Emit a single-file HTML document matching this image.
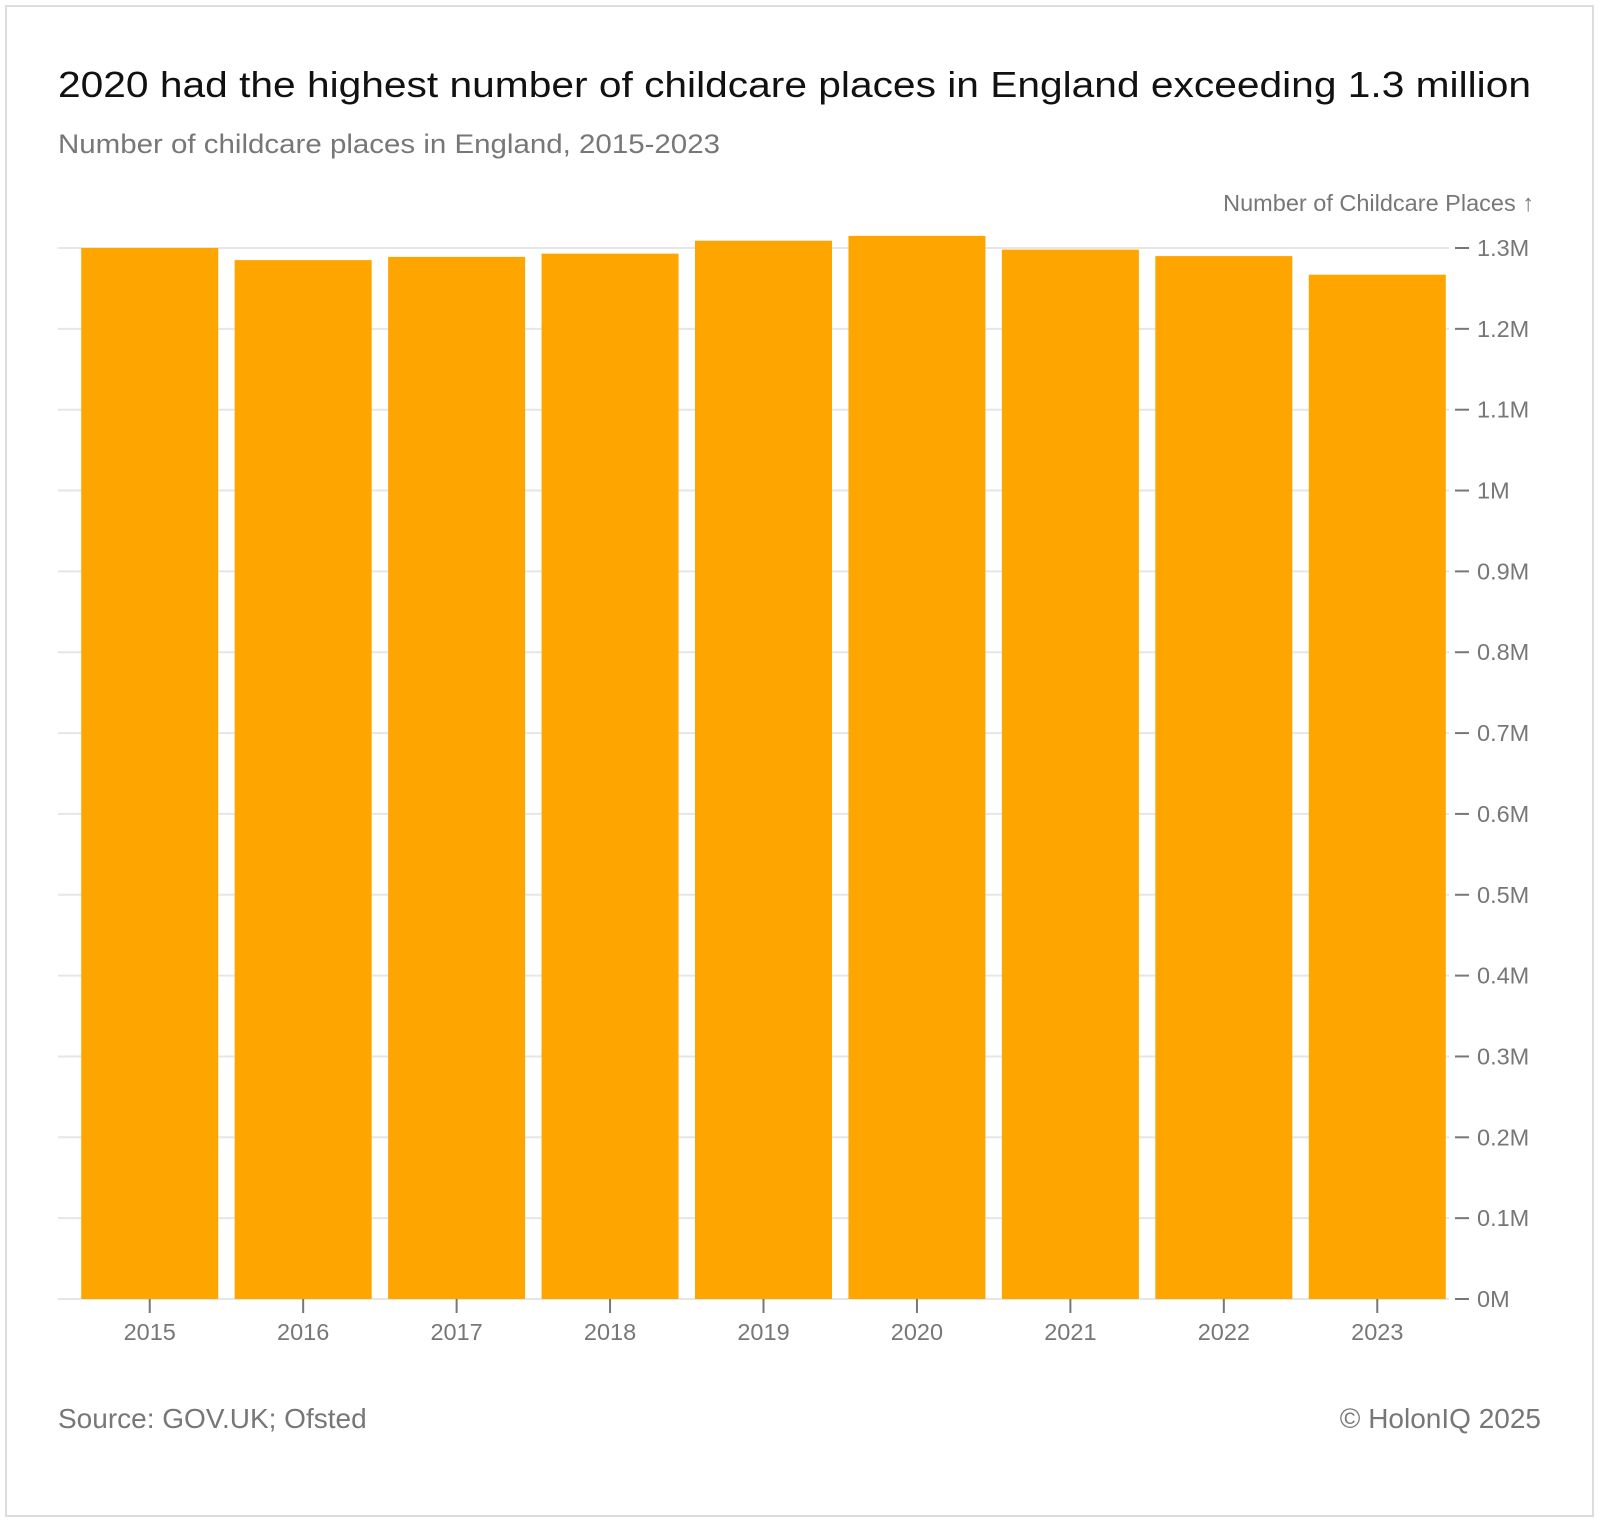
<!DOCTYPE html>
<html><head><meta charset="utf-8"><style>
html,body{margin:0;padding:0;background:#fff;}
svg{display:block;font-family:"Liberation Sans",sans-serif;}
</style></head><body>
<svg id="chart" width="1600" height="1523" viewBox="0 0 1600 1523">
<rect x="6" y="6" width="1587" height="1510" fill="#fff" stroke="#ddd" stroke-width="2"/>
<text x="58" y="97" font-size="36" fill="#111" textLength="1473" lengthAdjust="spacingAndGlyphs">2020 had the highest number of childcare places in England exceeding 1.3 million</text>
<text x="58" y="153" font-size="27" fill="#777" textLength="662" lengthAdjust="spacingAndGlyphs">Number of childcare places in England, 2015-2023</text>
<text x="1534" y="211" font-size="23.5" fill="#777" text-anchor="end">Number of Childcare Places ↑</text>
<g id="grid"></g>
<g id="bars"></g>
<g id="xaxis"></g>
<text x="58" y="1428" font-size="28" fill="#777">Source: GOV.UK; Ofsted</text>
<text x="1541" y="1428" font-size="28" fill="#777" text-anchor="end">© HolonIQ 2025</text>
</svg>
<script>
const categories = ["2015","2016","2017","2018","2019","2020","2021","2022","2023"];
const values = [1.300,1.285,1.289,1.293,1.309,1.315,1.298,1.290,1.267];
const yTicks = [0,0.1,0.2,0.3,0.4,0.5,0.6,0.7,0.8,0.9,1,1.1,1.2,1.3];
const yTickLabels = ["0M","0.1M","0.2M","0.3M","0.4M","0.5M","0.6M","0.7M","0.8M","0.9M","1M","1.1M","1.2M","1.3M"];

const NS="http://www.w3.org/2000/svg";
const y0=1299, y13=248, plotL=58, plotR=1449;
function y(v){return y0-(v/1.3)*(y0-y13);}
const offs=15;
const step=(plotR+5-plotL-offs)/categories.length;
function x(i){return plotL+offs+step*i;}
const bw=137;
function mk(t,a,p){const e=document.createElementNS(NS,t);for(const k in a)e.setAttribute(k,a[k]);p.appendChild(e);return e;}
const grid=document.getElementById('grid');
yTicks.forEach((t,i)=>{
  const l=mk('line',{x1:plotL,x2:plotR,y1:y(t),y2:y(t),stroke:'#e6e6e6','stroke-width':2},grid);
  
  
  const d=mk('line',{x1:1455,x2:1469,y1:y(t),y2:y(t),stroke:'#777','stroke-width':2},grid);
  
  
  const tx=mk('text',{x:1477,y:y(t)+8,'font-size':23.5,fill:'#777'},grid);
  tx.textContent=yTickLabels[i];
  
  
});
const bars=document.getElementById('bars'), xa=document.getElementById('xaxis');
categories.forEach((c,i)=>{
  const cx=x(i)+step/2;
  const r=mk('rect',{x:cx-bw/2,y:y(values[i]),width:bw,height:y0-y(values[i]),fill:'#FFA500'},bars);
  
  
  const t=mk('line',{x1:cx,x2:cx,y1:y0,y2:y0+14,stroke:'#777','stroke-width':2},xa);
  
  
  const lb=mk('text',{x:cx,y:1340,'font-size':23.5,fill:'#777','text-anchor':'middle'},xa);
  lb.textContent=c;
  
  
});
</script>
</body></html>
